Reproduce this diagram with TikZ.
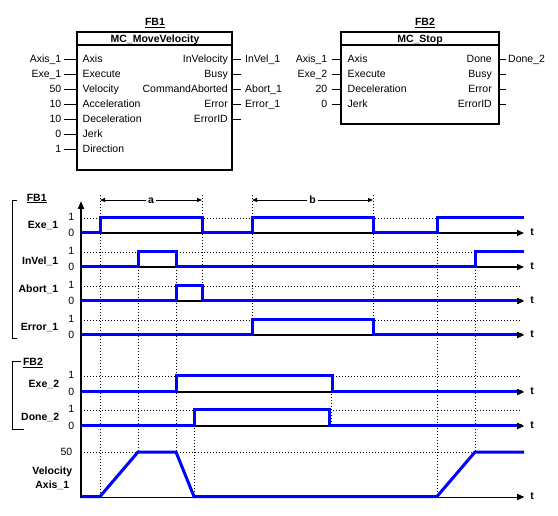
\documentclass[tikz,border=0pt]{standalone}
\usepackage{fontspec}
\setmainfont{Liberation Sans}
\usetikzlibrary{arrows.meta}
\definecolor{sigblue}{RGB}{0,0,255}
\begin{document}
\begin{tikzpicture}[x=1pt,y=-1pt,
  lbl/.style={inner sep=0pt,text height=7.5pt,text depth=0pt,font=\fontsize{10.5}{12}\selectfont},
  blbl/.style={inner sep=0pt,text height=7.5pt,text depth=0pt,font=\fontsize{10.5}{12}\selectfont\bfseries},
  fbbox/.style={draw,line width=1.6pt},
  pinline/.style={line width=0.9pt},
  sig/.style={sigblue,line width=3pt,line join=miter,line cap=butt},
  zeroline/.style={line width=1.3pt,-{Triangle[length=7pt,width=6pt]}},
  tiptri/.style={line width=1.3pt,-{Triangle[length=7pt,width=6pt]}},
  lvl/.style={line width=0.8pt,dash pattern=on 1.2pt off 1.8pt},
  dimarrow/.style={line width=0.8pt,{Triangle[length=5pt,width=4pt]}-{Triangle[length=5pt,width=4pt]}},
  bracket/.style={line width=0.9pt}
]
\useasboundingbox (0,0) rectangle (558,516);

% ================= FB1 block =================
\node[blbl] (fb1t) at (155,22.2) {\underline{FB1}};
\draw[fbbox] (77,32) rectangle (232,170);
\draw[line width=1.6pt] (77,45) -- (232,45);
\node[blbl] (fb1h) at (155,38.8) {MC\_MoveVelocity};
\foreach \y/\ext/\int [count=\i] in {59/Axis\_1/Axis,74/Exe\_1/Execute,89/50/Velocity,104/10/Acceleration,119/10/Deceleration,134/0/Jerk,149/1/Direction}{
  \coordinate (fb1in\i) at (77,\y);
  \draw[pinline] (64,\y) -- (fb1in\i);
  \node[lbl,anchor=east] (fb1ie\i) at (61.5,\y) {\ext};
  \node[lbl,anchor=west] (fb1ii\i) at (82.5,\y) {\int};
}
\foreach \y/\int/\ext [count=\i] in {59/InVelocity/InVel\_1,74/Busy/,89/CommandAborted/Abort\_1,104/Error/Error\_1,119/ErrorID/}{
  \coordinate (fb1out\i) at (232,\y);
  \draw[pinline] (fb1out\i) -- (241,\y);
  \node[lbl,anchor=east] (fb1oi\i) at (228,\y) {\int};
  \node[lbl,anchor=west] (fb1oe\i) at (245,\y) {\ext};
}

% ================= FB2 block =================
\node[blbl] (fb2t) at (425,22.2) {\underline{FB2}};
\draw[fbbox] (341,32) rectangle (499,124);
\draw[line width=1.6pt] (341,45) -- (499,45);
\node[blbl] (fb2h) at (420,38.8) {MC\_Stop};
\foreach \y/\ext/\int [count=\i] in {59/Axis\_1/Axis,74/Exe\_2/Execute,89/20/Deceleration,104/0/Jerk}{
  \coordinate (fb2in\i) at (341,\y);
  \draw[pinline] (332,\y) -- (fb2in\i);
  \node[lbl,anchor=east] (fb2ie\i) at (327.5,\y) {\ext};
  \node[lbl,anchor=west] (fb2ii\i) at (347.5,\y) {\int};
}
\foreach \y/\int/\ext [count=\i] in {59/Done/Done\_2,74/Busy/,89/Error/,104/ErrorID/}{
  \coordinate (fb2out\i) at (499,\y);
  \draw[pinline] (fb2out\i) -- (506,\y);
  \node[lbl,anchor=east] (fb2oi\i) at (492,\y) {\int};
  \node[lbl,anchor=west] (fb2oe\i) at (508,\y) {\ext};
}

% ================= Timing diagram =================
% brackets and group titles
\draw[bracket] (17,200) -- (12.3,200) -- (12.3,338.3) -- (17,338.3);
\node[blbl] (g1) at (36.7,197.5) {\underline{FB1}};
\draw[bracket] (20.5,361.7) -- (12.3,361.7) -- (12.3,429.3) -- (24,429.3);
\node[blbl] (g2) at (33,362) {\underline{FB2}};

% signal names
\node[blbl,anchor=east] (nExe1) at (58.5,224.7) {Exe\_1};
\node[blbl,anchor=east] (nInVel1) at (58.5,260.5) {InVel\_1};
\node[blbl,anchor=east] (nAbort1) at (58.5,289) {Abort\_1};
\node[blbl,anchor=east] (nError1) at (58.5,327) {Error\_1};
\node[blbl,anchor=east] (nExe2) at (59.3,383.8) {Exe\_2};
\node[blbl,anchor=east] (nDone2) at (59.3,417) {Done\_2};
\node[blbl] (nVel) at (52.3,470.5) {Velocity};
\node[blbl] (nAxis) at (52.3,484.5) {Axis\_1};

% level 1 / level 0 numbers
\foreach \yo/\yz [count=\i] in {218/233,252/267,286/301,320/335,376/392,410/426}{
  \node[lbl,anchor=east] (one\i) at (74.5,\yo-1.5) {1};
  \node[lbl,anchor=east] (zero\i) at (74.5,\yz-0.5) {0};
}
\node[lbl,anchor=east] (fifty) at (72.5,452) {50};

% dotted level lines
\foreach \y in {218,252,286,320,376,410,452}
  \draw[lvl] (81,\y) -- (520,\y);

% dotted time lines
\draw[lvl] (100,195) -- (100,497);
\draw[lvl] (138,252) -- (138,452);
\draw[lvl] (176,252) -- (176,452);
\draw[lvl] (194,410) -- (194,497);
\draw[lvl] (202,195) -- (202,301);
\draw[lvl] (252,195) -- (252,320);
\draw[lvl] (331,376) -- (331,426);
\draw[lvl] (373,195) -- (373,335);
\draw[lvl] (437,218) -- (437,497);
\draw[lvl] (475,252) -- (475,452);

% dimension arrows
\draw[dimarrow] (100,200) -- node[blbl,fill=white,inner xsep=2pt] (la) {a} (202,200);
\draw[dimarrow] (252,200) -- node[blbl,fill=white,inner xsep=2pt] (lb) {b} (373,200);

% zero lines (time axes)
\foreach \y [count=\i] in {233,267,301,335,392,426}{
  \draw[zeroline] (81,\y) -- (524,\y);
}
\draw[line width=0.9pt,-{Triangle[length=7pt,width=6pt]}] (81,497) -- (524,497);

% signals
\draw[sig] (81,233) -- (100,233) -- (100,218) -- (202,218) -- (202,233) -- (252,233) -- (252,218) -- (373,218) -- (373,233) -- (437,233) -- (437,218) -- (524,218);
\draw[sig] (81,267) -- (138,267) -- (138,252) -- (176,252) -- (176,267) -- (475,267) -- (475,252) -- (524,252);
\draw[sig] (81,301) -- (176,301) -- (176,286) -- (202,286) -- (202,301) -- (522,301);
\draw[sig] (81,335) -- (252,335) -- (252,320) -- (373,320) -- (373,335) -- (522,335);
\draw[sig] (81,392) -- (176,392) -- (176,376) -- (332,376) -- (332,392) -- (522,392);
\draw[sig] (81,426) -- (194,426) -- (194,410) -- (329,410) -- (329,426) -- (522,426);
\draw[sig] (81,496.5) -- (100,496.5) -- (138,452) -- (176,452) -- (194,496.5) -- (437,496.5) -- (475,452) -- (524,452);

% arrow tips on top of blue
\foreach \y in {301,335,392,426}
  \draw[tiptri] (517,\y) -- (524,\y);
\draw[tiptri] (517,497) -- (524,497);

% t labels
\foreach \y [count=\i] in {233,267,301,335,392,426,497}
  \node[blbl] (t\i) at (532,\y-1) {t};

% vertical axis
\draw[line width=1.8pt,-{Triangle[length=8pt,width=6pt]}] (81,498) -- (81,201);
\end{tikzpicture}
\end{document}
